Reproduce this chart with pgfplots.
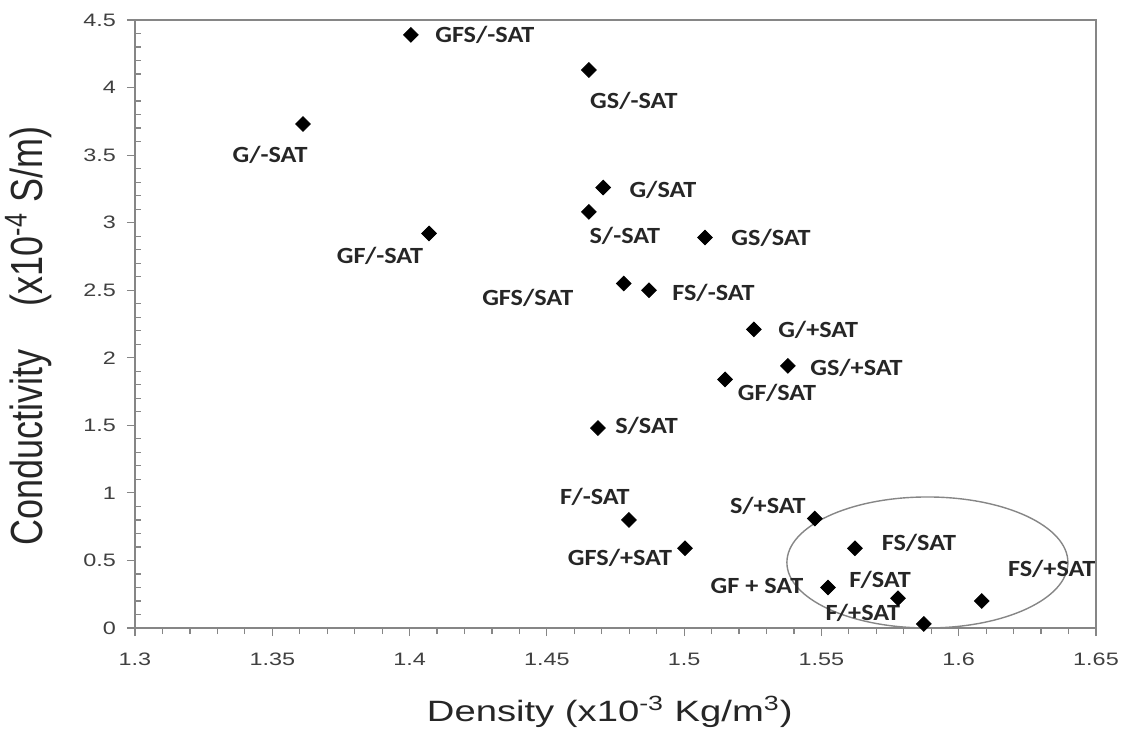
\documentclass[border=0pt]{standalone}
\usepackage{fontspec}
\usepackage{graphicx}
\setmainfont{Liberation Sans}
\newfontfamily\tickfont{Liberation Sans}[FakeStretch=1.3]
\newfontfamily\xlabfont{Liberation Sans}[FakeStretch=1.3]
\newfontfamily\ylabfont{Liberation Sans}
\newfontfamily\labfont{Carlito}[FakeStretch=1.13]
\usepackage{pgfplots}
\pgfplotsset{compat=1.18}
\definecolor{axgray}{HTML}{868686}
\definecolor{txt}{HTML}{262626}
\definecolor{tick}{HTML}{404040}
\newcommand\pl[5]{\node[font=\labfont\bfseries\fontsize{11.6}{12}\selectfont, text=txt, inner sep=0pt, anchor=#5] at (axis cs:#1) [xshift=#2pt, yshift=#3pt] {#4};}
\begin{document}
\begin{tikzpicture}
\path[use as bounding box] (-67.5pt,-53.5pt) rectangle (495.5pt,314pt);
\begin{axis}[
  at={(0,0)}, anchor=south west,
  scale only axis, width=480.5pt, height=304pt,
  xmin=1.3, xmax=1.65, ymin=0, ymax=4.5,
  xtick={1.3,1.35,1.4,1.45,1.5,1.55,1.6,1.65},
  ytick={0,0.5,1,1.5,2,2.5,3,3.5,4,4.5},
  minor x tick num=4, minor y tick num=4,
  xtick pos=bottom, ytick pos=left,
  tick align=outside,
  major tick length=4pt, minor tick length=3pt,
  minor y tick style={xshift=3pt},
  axis line style={axgray, line width=0.7pt},
  every tick/.style={axgray, line width=0.6pt},
  /pgf/number format/assume math mode=true,
  ticklabel style={font=\tickfont\fontsize{9}{9}\selectfont, text=tick},
  yticklabel style={xshift=-2pt},
  xticklabel style={yshift=-5pt},
  xlabel={\xlabfont\fontsize{14.7}{15}\selectfont Density (x10\textsuperscript{-3} Kg/m\textsuperscript{3})},
  ylabel={\scalebox{1}[1.25]{\ylabfont\fontsize{18}{18}\selectfont Conductivity\hspace{1.2em}(x10\textsuperscript{-4} S/m)}},
  xlabel style={at={(axis description cs:0.494,-0.138)}, anchor=center, text=txt},
  ylabel style={at={(axis description cs:-0.111,0.48)}, anchor=center, text=txt},
  clip=false,
]
\addplot[only marks, mark=square*, mark size=2.6pt, mark options={rotate=45, fill=black, draw=black}] coordinates {
  (1.4005,4.39) (1.4653,4.13) (1.3612,3.73) (1.4705,3.26) (1.4653,3.08)
  (1.4071,2.92) (1.5076,2.89) (1.4780,2.55) (1.4872,2.50) (1.5254,2.21)
  (1.5378,1.94) (1.5149,1.84) (1.4686,1.48) (1.4799,0.80) (1.5003,0.59)
  (1.5476,0.81) (1.5622,0.59) (1.5524,0.30) (1.5779,0.22) (1.6084,0.20)
  (1.5873,0.03)
};
\draw[axgray, line width=0.7pt] (axis cs:1.5886,0.485) ellipse [x radius=70.25pt, y radius=32.75pt];
\pl{1.4005,4.39}{12}{0}{GFS/-SAT}{west}
\pl{1.4653,4.13}{22.5}{-15.5}{GS/-SAT}{center}
\pl{1.3612,3.73}{-16.5}{-15.5}{G/-SAT}{center}
\pl{1.4705,3.26}{13}{-1}{G/SAT}{west}
\pl{1.4653,3.08}{18}{-12}{S/-SAT}{center}
\pl{1.4071,2.92}{-24.5}{-11}{GF/-SAT}{center}
\pl{1.5076,2.89}{13}{0}{GS/SAT}{west}
\pl{1.4780,2.55}{-48}{-7}{GFS/SAT}{center}
\pl{1.4872,2.50}{11.5}{-1.5}{FS/-SAT}{west}
\pl{1.5254,2.21}{12}{0}{G/+SAT}{west}
\pl{1.5378,1.94}{11}{-1}{GS/+SAT}{west}
\pl{1.5149,1.84}{26}{-6.5}{GF/SAT}{center}
\pl{1.4686,1.48}{8.5}{1}{S/SAT}{west}
\pl{1.4799,0.80}{-17}{11.5}{F/-SAT}{center}
\pl{1.5003,0.59}{-32.5}{-5}{GFS/+SAT}{center}
\pl{1.5476,0.81}{-23.5}{6.5}{S/+SAT}{center}
\pl{1.5622,0.59}{32}{2.5}{FS/SAT}{center}
\pl{1.5524,0.30}{-35.5}{0.5}{GF + SAT}{center}
\pl{1.5779,0.22}{-9}{9}{F/SAT}{center}
\pl{1.6084,0.20}{35}{16}{FS/+SAT}{center}
\pl{1.5873,0.03}{-30.5}{5.5}{F/+SAT}{center}
\end{axis}
\end{tikzpicture}
\end{document}
